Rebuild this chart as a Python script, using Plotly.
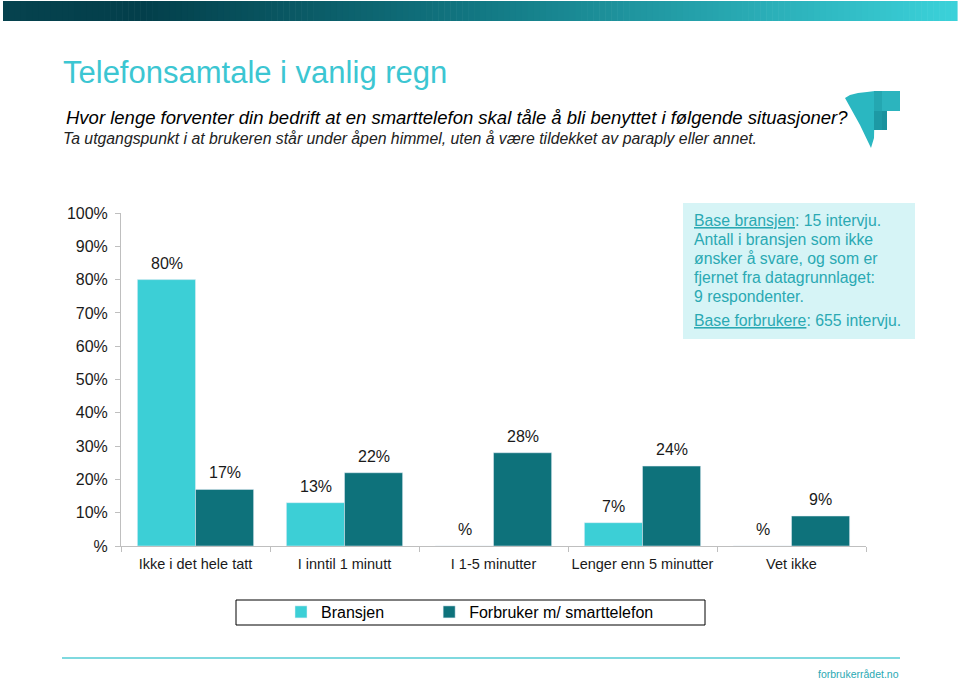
import plotly.graph_objects as go

categories = ["Ikke i det hele tatt", "I inntil 1 minutt", "I 1-5 minutter", "Lenger enn 5 minutter", "Vet ikke"]
bransjen = [80, 13, 0, 7, 0]
forbruker = [17, 22, 28, 24, 9]
series_names = ["Bransjen", "Forbruker m/ smarttelefon"]
y_tick_vals = [0, 10, 20, 30, 40, 50, 60, 70, 80, 90, 100]
y_tick_text = ["%", "10%", "20%", "30%", "40%", "50%", "60%", "70%", "80%", "90%", "100%"]

W, H = 960, 681
C_BR = "#3ccfd6"
C_FO = "#0e727b"
TEAL_TXT = "#2aa9b3"
NB = "\u00a0"

def px(x):
    return x / W

def py(y):
    return 1 - y / H

fig = go.Figure()
fig.add_trace(go.Bar(x=categories, y=bransjen, name=series_names[0] + NB * 9, marker_color=C_BR, hoverinfo="skip"))
fig.add_trace(go.Bar(x=categories, y=forbruker, name=series_names[1], marker_color=C_FO, hoverinfo="skip"))

annotations = []
for vals, sh in ((bransjen, -29), (forbruker, 29)):
    for c, v in zip(categories, vals):
        annotations.append(dict(x=c, y=v, xref="x", yref="y", xshift=sh, yshift=6,
                                yanchor="bottom", showarrow=False,
                                text=(f"{v}%" if v else "%"),
                                font=dict(size=16, color="#1a1a1a")))

# Titles
annotations.append(dict(x=px(61), y=py(73), xref="paper", yref="paper", xanchor="left", yanchor="middle",
                        showarrow=False, text="Telefonsamtale i vanlig regn",
                        font=dict(size=31, color="#3cc6d2", family="Liberation Sans, Arial")))
annotations.append(dict(x=px(64), y=py(117), xref="paper", yref="paper", xanchor="left", yanchor="middle",
                        showarrow=False,
                        text="<i>Hvor lenge forventer din bedrift at en smarttelefon skal tåle å bli benyttet i følgende situasjoner?</i>",
                        font=dict(size=18.5, color="#000000")))
annotations.append(dict(x=px(61), y=py(138), xref="paper", yref="paper", xanchor="left", yanchor="middle",
                        showarrow=False,
                        text="<i>Ta utgangspunkt i at brukeren står under åpen himmel, uten å være tildekket av paraply eller annet.</i>",
                        font=dict(size=15.8, color="#222222")))

# Info box text
info_lines = [
    ("<u>Base bransjen</u>: 15 intervju.", 220),
    ("Antall i bransjen som ikke", 239),
    ("ønsker å svare, og som er", 258),
    ("fjernet fra datagrunnlaget:", 277),
    ("9 respondenter.", 296),
    ("<u>Base forbrukere</u>: 655 intervju.", 320),
]
for t, yy in info_lines:
    annotations.append(dict(x=px(692), y=py(yy), xref="paper", yref="paper", xanchor="left", yanchor="middle",
                            showarrow=False, text=t, font=dict(size=15.8, color=TEAL_TXT)))

annotations.append(dict(x=px(901), y=py(674), xref="paper", yref="paper", xanchor="right", yanchor="middle",
                        showarrow=False, text="forbrukerrådet.no", font=dict(size=10.5, color=TEAL_TXT)))

shapes = []
# top gradient bar
def lerp(c1, c2, t):
    return tuple(int(round(a + (b - a) * t)) for a, b in zip(c1, c2))

stops = [(0.0, (6, 66, 78)), (0.15, (3, 63, 75)), (0.5, (18, 120, 131)), (1.0, (59, 210, 218))]
N = 160
x0b, x1b = 3, 957
for i in range(N):
    t = (i + 0.5) / N
    for j in range(len(stops) - 1):
        if stops[j][0] <= t <= stops[j + 1][0]:
            tt = (t - stops[j][0]) / (stops[j + 1][0] - stops[j][0])
            col = lerp(stops[j][1], stops[j + 1][1], tt)
            break
    xa = x0b + (x1b - x0b) * i / N
    xb = x0b + (x1b - x0b) * (i + 1) / N + 0.6
    shapes.append(dict(type="rect", xref="paper", yref="paper", x0=px(xa), x1=px(xb), y0=py(21), y1=py(1),
                       line=dict(width=0), fillcolor="rgb(%d,%d,%d)" % col, layer="below"))

# info box
shapes.append(dict(type="rect", xref="paper", yref="paper", x0=px(683), x1=px(915), y0=py(339), y1=py(203),
                   line=dict(width=0), fillcolor="#d6f4f6", layer="below"))
# legend box
shapes.append(dict(type="rect", xref="paper", yref="paper", x0=px(236), x1=px(705), y0=py(625), y1=py(600),
                   line=dict(width=1, color="#000000"), fillcolor="rgba(0,0,0,0)"))
# footer line
shapes.append(dict(type="line", xref="paper", yref="paper", x0=px(62), x1=px(900), y0=py(658), y1=py(658),
                   line=dict(width=2, color="#7fd9df")))

# logo
def pth(points):
    s = "M " + " L ".join(f"{px(a):.5f},{py(b):.5f}" for a, b in points) + " Z"
    return s

shapes.append(dict(type="path", xref="paper", yref="paper",
                   path=pth([(845, 98), (850, 95), (858, 93), (867, 92), (875, 91), (874, 138), (871, 148), (860, 125)]),
                   line=dict(width=0), fillcolor="#2ab7c1"))
shapes.append(dict(type="path", xref="paper", yref="paper",
                   path=pth([(874, 91), (900, 91), (900, 111), (874, 111)]),
                   line=dict(width=0), fillcolor="#2cb4be"))
shapes.append(dict(type="path", xref="paper", yref="paper",
                   path=pth([(874, 111), (887, 111), (887, 130), (874, 130)]),
                   line=dict(width=0), fillcolor="#1a929d"))
shapes.append(dict(type="path", xref="paper", yref="paper",
                   path=pth([(874, 91), (882, 91), (882, 130), (874, 130)]),
                   line=dict(width=0), fillcolor="#1f9ea9", opacity=0.6))

fig.update_layout(
    width=W, height=H,
    margin=dict(l=0, r=0, t=0, b=0, autoexpand=False),
    paper_bgcolor="white", plot_bgcolor="white",
    font=dict(family="Liberation Sans, Arial, sans-serif", color="#1a1a1a"),
    barmode="group", bargap=0.22, bargroupgap=0,
    showlegend=True,
    legend=dict(orientation="h", x=px(470), y=py(612), xanchor="center", yanchor="middle",
                font=dict(size=16, color="#000000"), bgcolor="rgba(0,0,0,0)",
                itemwidth=30, traceorder="normal"),
    xaxis=dict(domain=[px(121), px(866)], showline=True, linecolor="#bfbfbf", linewidth=1,
               ticks="outside", tickson="boundaries", ticklen=5, tickcolor="#bfbfbf", tickangle=0,
               automargin=False, ticklabelstandoff=5,
               tickfont=dict(size=14.5, color="#1a1a1a"), showgrid=False, fixedrange=True),
    yaxis=dict(domain=[py(546), py(213)], range=[0, 100], showline=True, linecolor="#bfbfbf", linewidth=1,
               tickmode="array", tickvals=y_tick_vals, ticktext=y_tick_text, automargin=False,
               ticks="outside", ticklen=5, tickcolor="#bfbfbf", ticklabelstandoff=4,
               tickfont=dict(size=16, color="#1a1a1a"), showgrid=False, zeroline=False, fixedrange=True),
    annotations=annotations,
    shapes=shapes,
)

fig.write_html("out.html")
